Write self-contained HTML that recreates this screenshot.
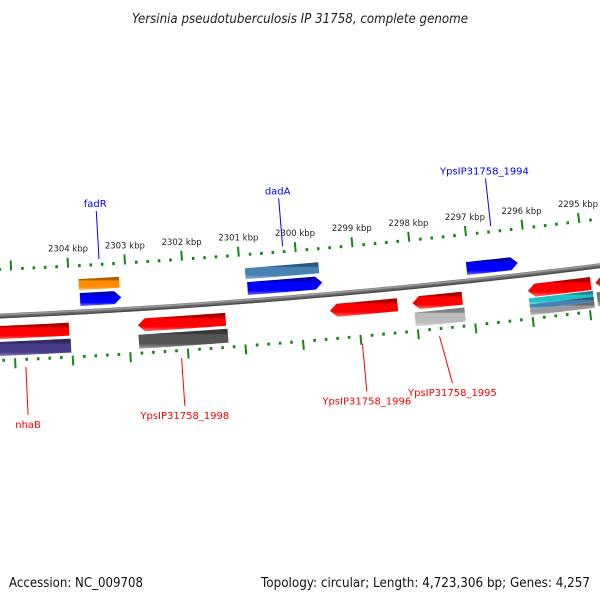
<!DOCTYPE html>
<html><head><meta charset="utf-8"><style>
html,body{margin:0;padding:0;background:#fff;}
svg{display:block;font-family:"DejaVu Sans","Liberation Sans",sans-serif;}
</style></head><body>
<svg id="map" width="600" height="600" viewBox="0 0 600 600" xmlns="http://www.w3.org/2000/svg">
<defs id="defs"></defs>
<rect width="600" height="600" fill="#fff"/>
<text x="300" y="23" text-anchor="middle" font-style="italic" font-size="13" fill="#222" textLength="336" lengthAdjust="spacingAndGlyphs">Yersinia pseudotuberculosis IP 31758, complete genome</text>
<text x="9" y="587" font-size="13" fill="#111" textLength="134" lengthAdjust="spacingAndGlyphs">Accession: NC_009708</text>
<text x="590" y="587" text-anchor="end" font-size="13" fill="#111" textLength="329" lengthAdjust="spacingAndGlyphs">Topology: circular; Length: 4,723,306 bp; Genes: 4,257</text>
<g id="plot"></g>
</svg>
<script>
// data
const tickStart = 2293.5, tickEnd = 2305.8;
const majorTicks = [2295,2296,2297,2298,2299,2300,2301,2302,2303,2304];
const tickLabels = ["2295 kbp","2296 kbp","2297 kbp","2298 kbp","2299 kbp","2300 kbp","2301 kbp","2302 kbp","2303 kbp","2304 kbp"];
const featNames = ["fadR-cog","fadR","dadA-cog","dadA","YpsIP31758_1994","nhaB","nhaB-cog","YpsIP31758_1998","1998-cog","YpsIP31758_1996","YpsIP31758_1995","1995-cog","gene-2295","cog-2295-a","cog-2295-b","cog-2295-c","gene-2294","cog-2294"];
const featStart = [2303.83,2303.82,2300.91,2300.89,2297.05,2305.6,2305.6,2302.84,2302.84,2299.49,2298.05,2298.03,2296.03,2296.03,2296.03,2296.03,2294.85,2294.85];
const featEnd   = [2303.12,2303.10,2299.62,2299.58,2296.15,2304.04,2304.02,2301.31,2301.29,2298.31,2297.18,2297.16,2294.93,2294.91,2294.91,2294.91,2293.6,2293.6];
const featRing  = ["u2","u1","u2","u1","u1","l1","l2","l1","l2","l1","l1","l2","l1","l2a","l2b","l2c","l1","l2"];
const featColor = ["#ff8c00","#0000ff","#4682b4","#0000ff","#0000ff","#ff0000","#483d8b","#ff0000","#555555","#ff0000","#ff0000","#bbbbbb","#ff0000","#20c0c8","#4682b4","#999999","#ff0000","#777777"];
const featArrow = ["none","right","none","right","right","none","none","left","none","left","left","none","left","none","none","none","left","none"];
const labelText = ["fadR","dadA","YpsIP31758_1994","nhaB","YpsIP31758_1998","YpsIP31758_1996","YpsIP31758_1995"];
const labelPos  = [2303.45,2300.22,2296.55,2304.82,2302.12,2298.98,2297.64];
const labelTextPos = [2303.45,2300.22,2296.55,2304.82,2302.12,2298.98,2297.5];
const labelSide = ["up","up","up","down","down","down","down"];
const labelColor = ["#0000ff","#0000ff","#0000ff","#ff0000","#ff0000","#ff0000","#ff0000"];

// geometry
const CX=-325, CY=-7177, R=7500;
const PHI0=0.0604, DPHI=0.00765;
function phi(k){return PHI0+(2303-k)*DPHI;}
function pt(k,off){const r=R+off,a=phi(k);return [CX+r*Math.sin(a),CY+r*Math.cos(a)];}
const rings={u1:[-19,-6],u2:[-33,-22],l1:[10,23],l2:[26,40],l2a:[24,30],l2b:[30,35],l2c:[35,41]};
const NS="http://www.w3.org/2000/svg";
const plot=document.getElementById('plot'), defs=document.getElementById('defs');
function mk(tag,attrs,parent){const e=document.createElementNS(NS,tag);for(const k in attrs)e.setAttribute(k,attrs[k]);(parent||plot).appendChild(e);return e;}
function shade(hex,f){let n=parseInt(hex.slice(1),16);let r=n>>16,g=(n>>8)&255,b=n&255;
 if(f<0){r*=1+f;g*=1+f;b*=1+f;}else{r+=(255-r)*f;g+=(255-g)*f;b+=(255-b)*f;}
 return 'rgb('+Math.round(r)+','+Math.round(g)+','+Math.round(b)+')';}
function arcPts(k1,k2,off,n){const a=[];for(let i=0;i<=n;i++){a.push(pt(k1+(k2-k1)*i/n,off));}return a;}
function ps(a){return a.map(p=>p[0].toFixed(2)+','+p[1].toFixed(2)).join(' ');}

// backbone
const bb=mk('polyline',{points:ps(arcPts(tickEnd,tickStart,0,60)),fill:'none',stroke:'#6a6a6a','stroke-width':5});


const bbl=mk('polyline',{points:ps(arcPts(tickEnd,tickStart,-1.3,60)),fill:'none',stroke:'#9a9a9a','stroke-width':1.6});


const bbd=mk('polyline',{points:ps(arcPts(tickEnd,tickStart,1.8,60)),fill:'none',stroke:'#4a4a4a','stroke-width':1.2});



// ticks
const tg=mk('g',{});


for(let i=Math.ceil(tickStart*5);i<=Math.floor(tickEnd*5);i++){
 const k=i/5, major=(i%5===0);
 [[-45,-1],[43,1]].forEach(([o,d])=>{
  const a=pt(k,o), b=pt(k,o+d*(major?10:3));
  const l=mk('line',{x1:a[0],y1:a[1],x2:b[0],y2:b[1],stroke:'#118811','stroke-width':major?2:2.6},tg);
  
  
 });
}
majorTicks.forEach((k,i)=>{
 const p=pt(k,-64);
 const t=mk('text',{x:p[0]+1,y:p[1]+3,'text-anchor':'middle','font-size':8.5,fill:'#222'});
 t.textContent=tickLabels[i];
 
 
});

// features
featNames.forEach((nm,i)=>{
 const col=featColor[i], id='g'+i;
 const gr=mk('linearGradient',{id:id,x1:0,y1:0,x2:0,y2:1},defs);
 mk('stop',{offset:'0',"stop-color":shade(col,-0.35)},gr);
 mk('stop',{offset:'0.25',"stop-color":shade(col,-0.3)},gr);
 mk('stop',{offset:'0.3',"stop-color":col},gr);
 mk('stop',{offset:'0.75',"stop-color":col},gr);
 mk('stop',{offset:'1',"stop-color":shade(col,0.45)},gr);
 const [o1,o2]=rings[featRing[i]];
 let s=featStart[i], e=featEnd[i];
 const head=0.12, mid=(o1+o2)/2;
 let pts;
 if(featArrow[i]==='right'){
  pts=arcPts(s,e+head,o1,20).concat([pt(e,mid)]).concat(arcPts(e+head,s,o2,20));
 }else if(featArrow[i]==='left'){
  pts=[pt(s,mid)].concat(arcPts(s-head,e,o1,20)).concat(arcPts(e,s-head,o2,20));
 }else{
  pts=arcPts(s,e,o1,20).concat(arcPts(e,s,o2,20));
 }
 const p=mk('polygon',{points:ps(pts),fill:'url(#'+id+')'});
 
 
});

// labels
labelText.forEach((txt,i)=>{
 const up=labelSide[i]==='up', d=up?-1:1;
 const a=pt(labelPos[i],d*52), b=pt(labelTextPos[i],d*100);
 const l=mk('line',{x1:a[0],y1:a[1],x2:b[0],y2:b[1],stroke:labelColor[i],'stroke-width':1});
 
 
 const tp=up?[b[0]-1,b[1]-4]:[b[0],b[1]+13];
 const t=mk('text',{x:tp[0],y:tp[1],'text-anchor':'middle','font-size':10,fill:labelColor[i]});
 t.textContent=txt;
 
 
});
</script>
</body></html>
